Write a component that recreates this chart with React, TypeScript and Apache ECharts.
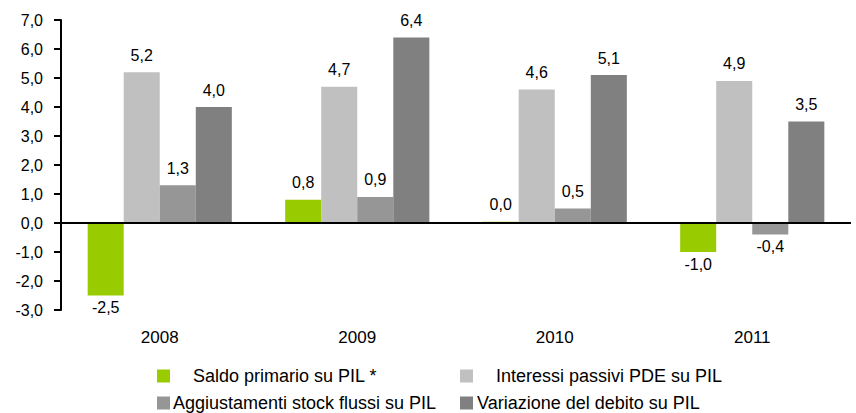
import React, { useEffect, useRef } from "react";
import * as echarts from "echarts";

const categories = ["2008", "2009", "2010", "2011"];
const seriesNames = [
  "Saldo primario su PIL *",
  "Interessi passivi PDE su PIL",
  "Aggiustamenti stock flussi su PIL",
  "Variazione del debito su PIL",
];
const saldoPrimario = [-2.5, 0.8, 0.04, -1.0];
const interessiPassivi = [5.2, 4.7, 4.6, 4.9];
const aggiustamenti = [1.3, 0.9, 0.5, -0.4];
const variazioneDebito = [4.0, 6.4, 5.1, 3.5];
const yTicks = { min: -3, max: 7, interval: 1 };

const colors = ["#99CC00", "#C0C0C0", "#969696", "#808080"];
const FONT = "'Liberation Sans', Arial, sans-serif";

const fmt = (v: number) => v.toFixed(1).replace(".", ",");

export default function App() {
  const ref = useRef<HTMLDivElement>(null);
  useEffect(() => {
    if (!ref.current) return;
    const chart = echarts.init(ref.current, undefined, { renderer: "svg" });
    const allData = [saldoPrimario, interessiPassivi, aggiustamenti, variazioneDebito];
    const series: any[] = allData.map((arr, i) => ({
      name: seriesNames[i],
      type: "bar",
      barGap: "0%",
      barCategoryGap: "27%",
      itemStyle: { color: colors[i] },
      data: arr.map((v) => ({
        value: v,
        label: {
          show: true,
          position: v < 0 ? "bottom" : "top",
          distance: v < 0 ? 4 : 9,
          formatter: () => fmt(v),
          color: "#000",
          fontSize: 16,
          fontFamily: FONT,
        },
      })),
      markLine:
        i === 0
          ? {
              silent: true,
              symbol: "none",
              label: { show: false },
              lineStyle: { color: "#000", width: 2, type: "solid" },
              data: [{ yAxis: 0 }],
            }
          : undefined,
    }));
    const legendPos = [
      { left: 157, top: 367, pad: 18 },
      { left: 460, top: 367, pad: 18 },
      { left: 157, top: 394, pad: -2 },
      { left: 460, top: 394, pad: -1 },
    ];
    chart.setOption({
      animation: false,
      grid: { left: 61, right: 5, top: 20, bottom: 103 },
      legend: legendPos.map((p, i) => ({
        data: [seriesNames[i]],
        left: p.left,
        top: p.top,
        padding: 0,
        icon: "rect",
        itemWidth: 13,
        itemHeight: 13,
        selectedMode: false,
        textStyle: {
          fontSize: 18,
          fontFamily: FONT,
          color: "#000",
          padding: [0, 0, 0, p.pad],
        },
      })),
      xAxis: {
        type: "category",
        data: categories,
        axisLine: { show: false, onZero: false },
        axisTick: { show: false },
        axisLabel: { margin: 19, fontSize: 17, fontFamily: FONT, color: "#000" },
      },
      yAxis: {
        type: "value",
        min: yTicks.min,
        max: yTicks.max,
        interval: yTicks.interval,
        splitLine: { show: false },
        axisLine: { show: true, lineStyle: { color: "#000", width: 2 } },
        axisTick: { show: true, length: 7, lineStyle: { color: "#000", width: 2 } },
        axisLabel: {
          margin: 18,
          fontSize: 16,
          fontFamily: FONT,
          color: "#000",
          formatter: (v: number) => fmt(v),
        },
      },
      series,
    });
    return () => chart.dispose();
  }, []);
  return <div ref={ref} style={{ width: 856, height: 413, position: "absolute", left: 0, top: 0 }} />;
}
